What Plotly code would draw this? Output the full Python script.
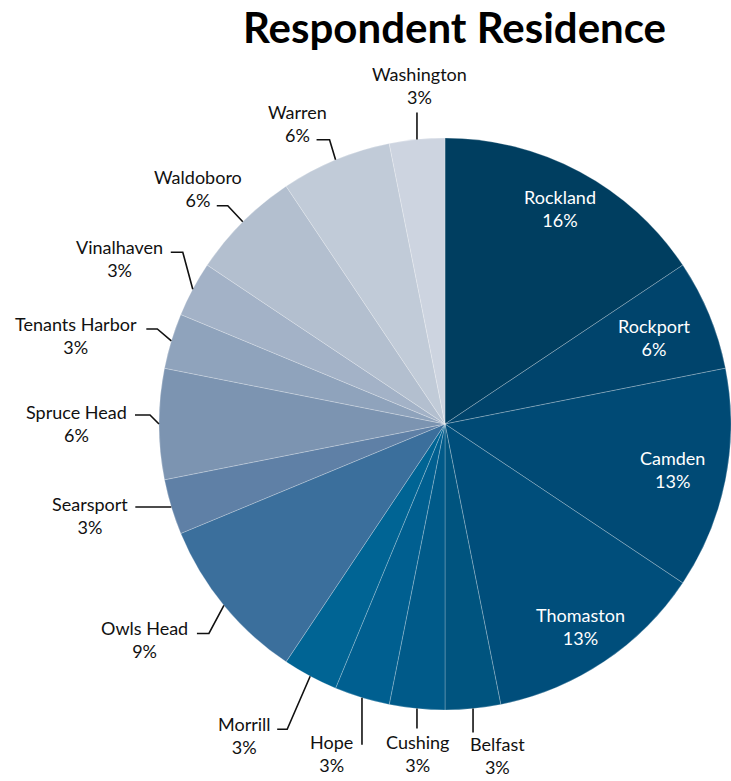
import math
import plotly.graph_objects as go

# Respondent counts by town of residence (32 respondents)
towns = ["Rockland", "Rockport", "Camden", "Thomaston", "Belfast", "Cushing",
         "Hope", "Morrill", "Owls Head", "Searsport", "Spruce Head",
         "Tenants Harbor", "Vinalhaven", "Waldoboro", "Warren", "Washington"]
respondents = [5, 2, 4, 4, 1, 1, 1, 1, 3, 1, 2, 1, 1, 2, 2, 1]

# Blue ramp from dark navy to pale grey-blue
slice_colors = ["#003e60", "#00446c", "#004a75", "#004e7b", "#00547f", "#005a89",
                "#005f90", "#006494", "#3b6f9c", "#5f80a6", "#7c94b1",
                "#8fa3bc", "#a3b2c7", "#b3bfcf", "#c1cbd8", "#cdd4e0"]

W, H = 731, 781
CX, CY, R = 445.0, 424.0, 286.0  # pie centre and radius in pixels

# Labels drawn inside their slice: radial position as a fraction of the radius
inside_pos = {"Rockland": 0.855, "Rockport": 0.79, "Camden": 0.81, "Thomaston": 0.852}

# Outside labels: text-centre offset from the slice's edge point,
# leader-line corner and leader-line end (all offsets in pixels)
outside_pos = {
    "Washington":     ((3, -53.5), (0, -27), (0, -27)),
    "Warren":         ((-38, -36), (-6, -20), (-19, -20)),
    "Waldoboro":      ((-45, -33.5), (-15, -16), (-26, -16)),
    "Vinalhaven":     ((-73, -31), (-10, -37), (-22, -37)),
    "Tenants Harbor": ((-95, -5.5), (-14, -12), (-25, -12)),
    "Spruce Head":    ((-83, -1), (-9, -9), (-24, -9)),
    "Searsport":      ((-81, 8), (0, 0), (-36, 0)),
    "Owls Head":      ((-79, 34), (-15, 28), (-27, 28)),
    "Morrill":        ((-66, 59), (-23, 53), (-33, 53)),
    "Hope":           ((-30, 56), (0, 47), (0, 47)),
    "Cushing":        ((1, 45), (0, 20), (0, 20)),
    "Belfast":        ((24, 47), (0, 24), (0, 24)),
}

FONT = "Lato, 'Open Sans', sans-serif"


def px(x):
    return x / W


def py(y):
    return 1 - y / H


fig = go.Figure(go.Pie(
    labels=towns,
    values=respondents,
    sort=False,
    direction="clockwise",
    rotation=0,
    marker=dict(colors=slice_colors, line=dict(color="rgba(255,255,255,0.4)", width=0.6)),
    textinfo="none",
    hoverinfo="label+percent",
    showlegend=False,
    domain=dict(x=[px(CX - R), px(CX + R)], y=[py(CY + R), py(CY - R)]),
))

total = sum(respondents)
annotations = []
shapes = []
cum = 0
for town, v in zip(towns, respondents):
    mid = (cum + v / 2) / total * 2 * math.pi  # clockwise from 12 o'clock
    cum += v
    pct = int(v * 100 / total + 0.5)
    text = f"{town}<br>{pct}%"
    sx, sy = math.sin(mid), -math.cos(mid)
    if town in inside_pos:
        f = inside_pos[town]
        tx, ty = CX + sx * R * f, CY + sy * R * f
        annotations.append(dict(x=px(tx), y=py(ty), xref="paper", yref="paper",
                                text=text, showarrow=False, align="center",
                                xanchor="center", yanchor="middle",
                                font=dict(family=FONT, size=18, color="white")))
    else:
        ex, ey = CX + sx * R, CY + sy * R
        (tdx, tdy), (cdx, cdy), (ldx, ldy) = outside_pos[town]
        annotations.append(dict(x=px(ex + tdx), y=py(ey + tdy), xref="paper", yref="paper",
                                text=text, showarrow=False, align="center",
                                xanchor="center", yanchor="middle",
                                font=dict(family=FONT, size=18, color="#111111")))
        path = (f"M {px(ex)} {py(ey)} L {px(ex + cdx)} {py(ey + cdy)} "
                f"L {px(ex + ldx)} {py(ey + ldy)}")
        shapes.append(dict(type="path", path=path, xref="paper", yref="paper",
                           line=dict(color="#111111", width=1.6)))

annotations.append(dict(x=px(454), y=py(27), xref="paper", yref="paper",
                        text="<b>Respondent Residence</b>", showarrow=False,
                        xanchor="center", yanchor="middle", borderpad=0,
                        font=dict(family=FONT, size=42, color="black")))

fig.update_layout(
    width=W, height=H,
    margin=dict(l=0, r=0, t=0, b=0),
    paper_bgcolor="white",
    plot_bgcolor="white",
    annotations=annotations,
    shapes=shapes,
)

fig.write_html("out.html")
